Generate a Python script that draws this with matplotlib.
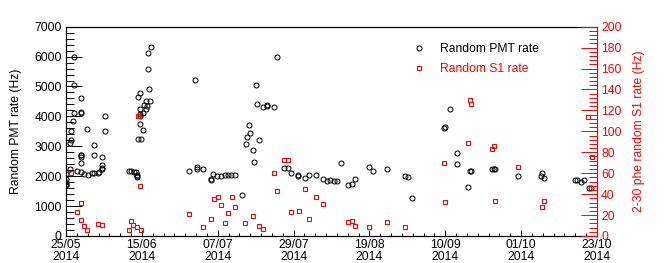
import matplotlib
matplotlib.use("Agg")
import matplotlib.pyplot as plt
from matplotlib.lines import Line2D
from matplotlib.ticker import FixedLocator, MultipleLocator
import numpy as np

plt.rcParams['font.family'] = ['Liberation Sans', 'DejaVu Sans']

# x values: days since 25/05/2014
pmt_day = [0.1, 0.1, 0.0, 0.0, 0.1, 1.0, 1.1, 1.3, 1.4, 2.1, 2.3, 2.3, 2.3, 3.2,
           4.35, 4.35, 4.35, 4.35, 4.35, 4.35, 4.35, 4.35, 5.1, 6.1, 6.3, 7.4,
           8.0, 8.0, 8.0, 9.1, 9.4, 10.2, 10.2, 10.2, 10.2, 11.0, 11.0,
           18.0, 18.6, 19.3, 19.9, 20.2, 20.2, 20.2, 20.6, 20.6, 21.0, 21.0, 21.0,
           21.0, 21.1, 21.3, 21.9, 21.9, 22.3, 22.7, 22.7, 23.0, 23.4, 23.4, 23.6,
           24.0, 24.2,
           35.1, 36.8, 37.2, 37.2, 39.1, 41.2, 41.2, 41.9, 43.0, 44.0, 45.2, 46.1,
           47.0, 48.0, 50.1, 51.2, 51.4, 52.0, 52.2, 53.3, 53.5, 54.1, 54.3, 55.0,
           56.0, 57.1, 57.3, 59.2, 60.1, 62.0, 63.2, 64.1, 66.0, 66.0, 68.1, 69.2,
           71.1, 73.0, 74.2, 75.1, 76.1, 77.0, 78.2, 80.2, 81.2, 82.1, 86.1, 87.3,
           91.2, 96.4, 97.3, 98.4, 107.4, 107.8, 109.1, 111.2, 111.2, 114.2, 114.9,
           115.3, 121.2, 121.7, 122.1, 128.6, 135.2, 135.5, 135.8, 144.7, 145.3,
           146.4, 147.2, 148.7, 149.3]
pmt_rate = [2070, 1900, 1820, 1740, 1690, 2250, 3120, 3210, 3520, 3835, 4125, 5040, 5975, 2185,
            2140, 2450, 2650, 2700, 2720, 4110, 4150, 4615, 2070, 3590, 2030, 2095,
            2095, 2720, 3030, 2115, 2140, 2230, 2270, 2360, 2630, 3520, 4010,
            2160, 2180, 2140, 2140, 2050, 1985, 2000, 4660, 3250, 4790, 4260, 4080,
            4010, 3745, 3230, 3545, 4125, 4370, 4525, 4240, 4350, 5595, 6110, 4925,
            4525, 6330,
            2160, 5215, 2250, 2300, 2230, 1900, 1860, 2070, 2015, 2015, 2050, 2050,
            2050, 2050, 1380, 3075, 3320, 3700, 3455, 2875, 2475, 5040, 4415, 3210,
            4325, 4350, 4380, 4300, 5995, 2260, 2260, 2095, 2000, 2030, 1940, 2050,
            2030, 1915, 1850, 1860, 1850, 1830, 2430, 1715, 1740, 1915, 2300, 2185,
            2230, 2005, 1960, 1270, 3610, 3630, 4235, 2765, 2410, 1630, 2185,
            2185, 2250, 2250, 2250, 2005, 2005, 2095, 1940, 1873, 1873,
            1806, 1873, 1605, 1605]

s1_day = [1.3, 3.0, 4.2, 4.35, 5.1, 6.1, 9.1, 10.2, 17.9, 18.5, 19.1, 20.2, 20.6,
          21.1, 21.2, 34.9, 39.1, 41.2, 42.1, 43.2, 44.2, 45.2, 46.1, 47.2, 48.2,
          51.0, 53.1, 55.0, 56.0, 59.2, 60.1, 62.0, 63.2, 64.1, 66.2, 68.1, 69.2,
          71.1, 73.0, 80.2, 81.2, 82.1, 86.1, 91.2, 96.4, 107.4, 107.8, 114.2,
          114.8, 115.2, 121.2, 121.8, 122.1, 128.6, 135.4, 135.8, 148.5, 149.7]
s1_rate = [60.5, 22.9, 31.8, 15.3, 9.6, 6.0, 11.5, 10.8, 5.7, 14.6, 10.2, 8.3, 114.7,
           48.0, 5.7, 21.0, 8.9, 16.0, 35.6, 37.0, 29.3, 12.7, 22.3, 37.6, 27.4,
           12.1, 19.1, 9.6, 7.0, 59.9, 42.7, 72.6, 72.6, 22.9, 23.6, 45.2, 16.6,
           37.6, 30.6, 13.4, 14.6, 9.6, 8.9, 13.4, 8.9, 69.5, 32.5, 88.6,
           130.0, 126.0, 83.4, 86.0, 33.2, 65.6, 27.4, 33.2, 114.0, 75.8]

x_range_days = 151.0
x_tick_labels = ["25/05\n2014", "15/06\n2014", "07/07\n2014", "29/07\n2014",
                 "19/08\n2014", "10/09\n2014", "01/10\n2014", "23/10\n2014"]

FS = 8.7
W, H = 664, 263
fig = plt.figure(figsize=(W / 100, H / 100), dpi=100)
ax = fig.add_axes([66 / W, 1 - 236 / H, (597 - 66) / W, (236 - 26.7) / H])
ax2 = ax.twinx()

ax.plot(pmt_day, pmt_rate, linestyle='none', marker='o', markersize=3.6,
        markerfacecolor='none', markeredgecolor='black', markeredgewidth=0.7)
ax2.plot(s1_day, s1_rate, linestyle='none', marker='s', markersize=3.4,
         markerfacecolor='none', markeredgecolor='red', markeredgewidth=0.8)

ax.set_xlim(0, x_range_days)
ax.set_ylim(0, 7000)
ax2.set_ylim(0, 200)

nmaj = len(x_tick_labels) - 1
major_x = [k * x_range_days / nmaj for k in range(nmaj + 1)]
minor_x = [k * x_range_days / (nmaj * 7) for k in range(nmaj * 7 + 1)]
ax.xaxis.set_major_locator(FixedLocator(major_x))
ax.xaxis.set_minor_locator(FixedLocator(minor_x))
ax.set_xticklabels(x_tick_labels, fontsize=FS, linespacing=1.0)

ax.yaxis.set_major_locator(MultipleLocator(1000))
ax.yaxis.set_minor_locator(MultipleLocator(200))
ax2.yaxis.set_major_locator(MultipleLocator(20))
ax2.yaxis.set_minor_locator(MultipleLocator(4))

ax.tick_params(axis='x', which='major', direction='in', length=4.3, width=0.7,
               pad=2.5, labelsize=FS, top=False)
ax.tick_params(axis='x', which='minor', direction='in', length=2.2, width=0.7, top=False)
ax.tick_params(axis='y', which='major', direction='in', length=11.5, width=0.7,
               pad=3, labelsize=FS, right=False)
ax.tick_params(axis='y', which='minor', direction='in', length=5.8, width=0.7, right=False)
ax2.tick_params(axis='y', which='major', direction='in', length=11.5, width=0.7,
                pad=3, labelsize=FS, colors='red')
ax2.tick_params(axis='y', which='minor', direction='in', length=5.8, width=0.7, colors='red')

for sp in ax.spines.values():
    sp.set_linewidth(0.9)
ax.spines['right'].set_visible(False)
for k in ['left', 'top', 'bottom']:
    ax2.spines[k].set_visible(False)
ax2.spines['right'].set_color('red')
ax2.spines['right'].set_linewidth(0.9)

ax.set_ylabel("Random PMT rate (Hz)", fontsize=FS)
ax.yaxis.set_label_coords(22 / W, 0.5, transform=fig.transFigure)
ax2.set_ylabel("2-30 phe random S1 rate (Hz)", fontsize=FS, color='red')
ax2.yaxis.set_label_coords(633 / W, 0.5, transform=fig.transFigure)

handles = [Line2D([], [], linestyle='none', marker='o', markersize=3.6,
                  markerfacecolor='none', markeredgecolor='black', markeredgewidth=0.7),
           Line2D([], [], linestyle='none', marker='s', markersize=3.4,
                  markerfacecolor='none', markeredgecolor='red', markeredgewidth=0.8)]
leg = ax2.legend(handles, ["Random PMT rate", "Random S1 rate"], loc='upper left',
                 bbox_to_anchor=(407 / W, 1 - 43.5 / H), bbox_transform=fig.transFigure,
                 frameon=False, fontsize=FS, handlelength=2.0, handletextpad=0.75,
                 borderpad=0, borderaxespad=0, labelspacing=0.62)
leg.get_texts()[1].set_color('red')

fig.savefig("out.png", dpi=100)
